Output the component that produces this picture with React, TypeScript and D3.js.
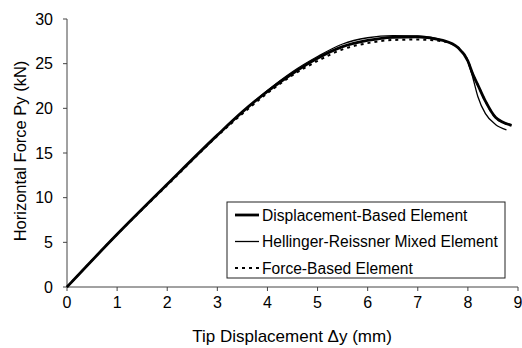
import React from "react";
import * as d3 from "d3";

// tip displacement (mm) and horizontal force (kN)
const dispX = [0, 1, 2, 3, 3.5, 4, 4.5, 5, 5.5, 6, 6.5, 7, 7.5, 7.8, 8.0, 8.1, 8.2, 8.35, 8.55, 8.87];
const dispY = [0, 5.9, 11.5, 17.0, 19.6, 21.9, 23.9, 25.6, 26.9, 27.6, 27.95, 28.0, 27.6, 26.8, 25.3, 23.8, 22.6, 20.8, 19.0, 18.1];
const hrX = [0, 1, 2, 3, 3.5, 4, 4.5, 5, 5.5, 6, 6.5, 7, 7.5, 7.8, 8.0, 8.1, 8.2, 8.35, 8.55, 8.77];
const hrY = [0, 5.9, 11.5, 17.0, 19.6, 22.0, 24.1, 25.8, 27.2, 27.9, 28.15, 28.1, 27.6, 26.8, 25.2, 23.4, 21.3, 19.4, 18.2, 17.6];
const forceX = [0, 1, 2, 3, 3.5, 4, 4.5, 5, 5.5, 6, 6.5, 7, 7.5, 7.8, 8.0, 8.1, 8.2, 8.35, 8.55, 8.87];
const forceY = [0, 5.9, 11.4, 16.9, 19.4, 21.7, 23.7, 25.3, 26.6, 27.3, 27.65, 27.7, 27.5, 26.8, 25.3, 23.8, 22.6, 20.8, 19.0, 18.1];

const xTicks = [0, 1, 2, 3, 4, 5, 6, 7, 8, 9];
const yTicks = [0, 5, 10, 15, 20, 25, 30];
const legendNames = ["Displacement-Based Element", "Hellinger-Reissner Mixed Element", "Force-Based Element"];

const font = "'Liberation Sans', Arial, sans-serif";

export default function App() {
  const width = 522, height = 348;
  const x = d3.scaleLinear().domain([0, 9]).range([67, 518]);
  const y = d3.scaleLinear().domain([0, 30]).range([287, 19]);

  const line = d3.line<number>()
    .x(d => d[0])
    .y(d => d[1])
    .curve(d3.curveMonotoneX);

  const path = (xs: number[], ys: number[]) =>
    line(xs.map((v, i) => [x(v), y(ys[i])]) as any) || "";

  const series = [
    { xs: dispX, ys: dispY, w: 2.8, dash: null },
    { xs: hrX, ys: hrY, w: 1.3, dash: null },
    { xs: forceX, ys: forceY, w: 2, dash: "3,4" },
  ];

  const lg = { x: 227, y: 202, w: 278, h: 76 };

  return (
    <svg width={width} height={height} style={{ position: "absolute", left: 0, top: 0, background: "#fff" }}>
      {/* axes */}
      <line x1={x(0)} x2={x(0)} y1={y(30)} y2={y(0)} stroke="#444" strokeWidth={1} />
      <line x1={x(0)} x2={x(9)} y1={y(0)} y2={y(0)} stroke="#444" strokeWidth={1} />
      {yTicks.map(t => (
        <g key={"y" + t}>
          <line x1={x(0) - 4} x2={x(0)} y1={y(t)} y2={y(t)} stroke="#444" />
          <text x={53} y={y(t) + 5.5} textAnchor="end" fontFamily={font} fontSize={16}>{t}</text>
        </g>
      ))}
      {xTicks.map(t => (
        <g key={"x" + t}>
          <line x1={x(t)} x2={x(t)} y1={y(0)} y2={y(0) + 4} stroke="#444" />
          <text x={x(t)} y={308} textAnchor="middle" fontFamily={font} fontSize={16}>{t}</text>
        </g>
      ))}
      <text x={292} y={342} textAnchor="middle" fontFamily={font} fontSize={17}>
        Tip Displacement Δy (mm)
      </text>
      <text transform={`translate(26,151) rotate(-90)`} textAnchor="middle" fontFamily={font} fontSize={16.5}>
        Horizontal Force Py (kN)
      </text>

      {/* curves */}
      {series.map((s, i) => (
        <path key={i} d={path(s.xs, s.ys)} fill="none" stroke="#000" strokeWidth={s.w}
          strokeDasharray={s.dash || undefined} strokeLinejoin="round" />
      ))}

      {/* legend */}
      <rect x={lg.x} y={lg.y} width={lg.w} height={lg.h} fill="#fff" stroke="#222" strokeWidth={1} />
      {legendNames.map((name, i) => {
        const cy = lg.y + 13 + i * 26.5;
        return (
          <g key={name}>
            <line x1={235} x2={259} y1={cy} y2={cy} stroke="#000" strokeWidth={series[i].w}
              strokeDasharray={series[i].dash || undefined} />
            <text x={262} y={cy + 5.5} fontFamily={font} fontSize={15.6}>{name}</text>
          </g>
        );
      })}
    </svg>
  );
}
